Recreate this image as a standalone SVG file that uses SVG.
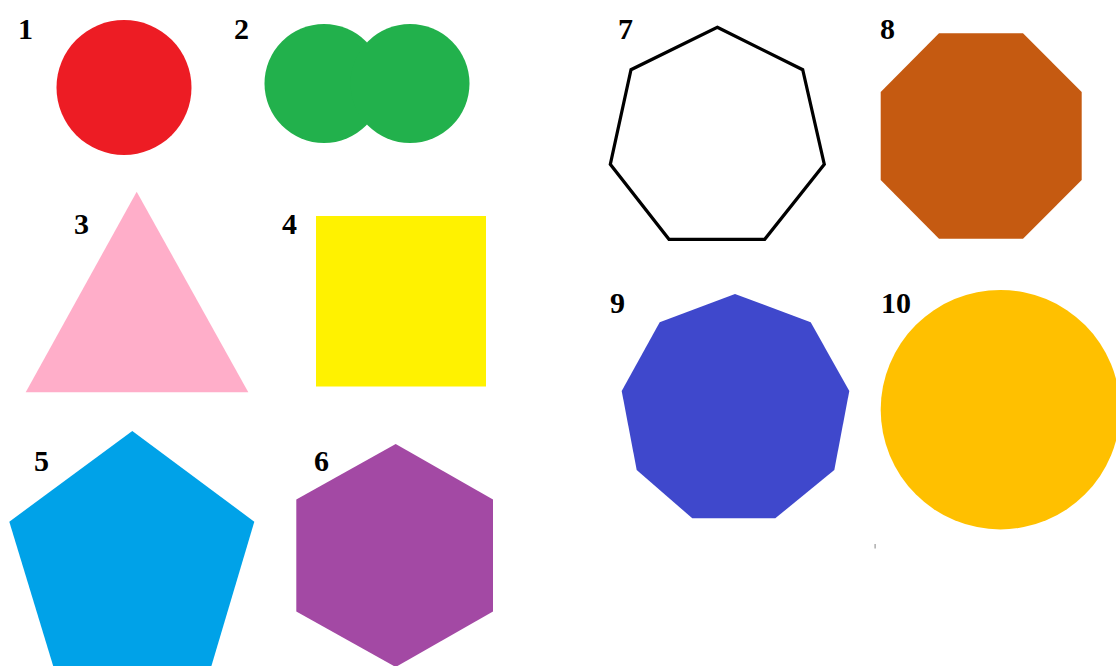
<svg xmlns="http://www.w3.org/2000/svg" width="1116" height="666" viewBox="0 0 1116 666">
<style>
.lbl{font-family:"Liberation Serif","Times New Roman",serif;font-weight:bold;font-size:30px;fill:#000}
</style>
<rect x="0" y="0" width="1116" height="666" fill="#fff"/>
<g id="shape1">
<circle cx="124" cy="87.5" r="67.5" fill="#ED1C24"/>
<text class="lbl" x="18" y="39">1</text>
</g>
<g id="shape2">
<circle cx="324" cy="83.5" r="59.5" fill="#22B14C"/>
<circle cx="410" cy="83.5" r="59.5" fill="#22B14C"/>
<text class="lbl" x="234" y="39">2</text>
</g>
<g id="shape3">
<polygon points="136.7,191.7 248.3,392.3 25.7,392.3" fill="#FFAEC9"/>
<text class="lbl" x="74" y="234">3</text>
</g>
<g id="shape4">
<rect x="316" y="216" width="170" height="170.5" fill="#FFF200"/>
<text class="lbl" x="282" y="234">4</text>
</g>
<g id="shape5">
<polygon points="132.3,431 254.3,521.7 210.8,668 53.8,668 9.3,521.7" fill="#00A2E8"/>
<text class="lbl" x="34" y="471">5</text>
</g>
<g id="shape6">
<polygon points="395.7,444 493,499.5 493,611.5 395.7,667 296.3,611.5 296.3,499.5" fill="#A349A4"/>
<text class="lbl" x="314" y="471">6</text>
</g>
<g id="shape7">
<polygon points="717.3,27.3 802.7,69.7 824.3,164.3 764.7,239.3 669,239.3 610.3,164.3 631,69.7" fill="#fff" stroke="#000" stroke-width="3.2" stroke-linejoin="miter"/>
<text class="lbl" x="618" y="39">7</text>
</g>
<g id="shape8">
<polygon points="939,33.3 1023,33.3 1081.7,92 1081.7,180 1023,238.7 939,238.7 880.7,180 880.7,92" fill="#C55A11"/>
<text class="lbl" x="880" y="39">8</text>
</g>
<g id="shape9">
<polygon points="735,294 810.7,322.3 849.3,391 834.3,470 775.3,518.3 692.3,518.3 636.7,470 621.7,391 659.7,322.3" fill="#3F48CC"/>
<text class="lbl" x="610" y="313">9</text>
</g>
<g id="shape10">
<circle cx="1000.4" cy="409.7" r="119.7" fill="#FFC000"/>
<text class="lbl" x="881" y="313">10</text>
</g>
<rect x="874.5" y="544" width="1.2" height="4.5" fill="#999"/>
</svg>
